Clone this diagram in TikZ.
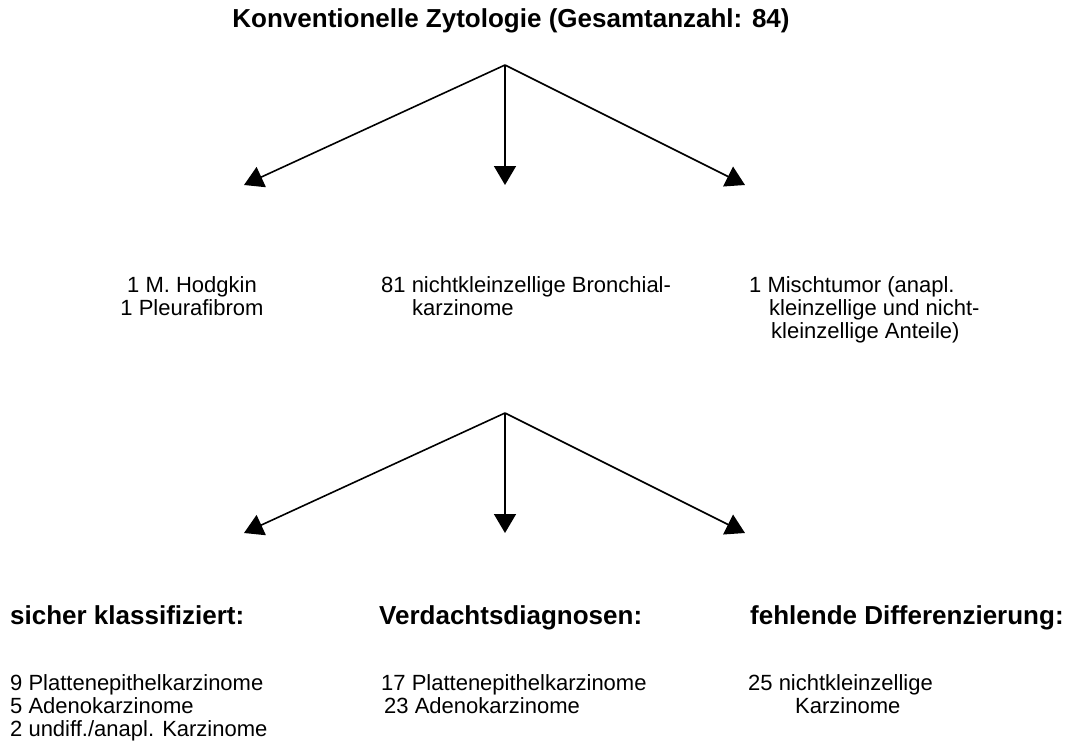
\documentclass[tikz,border=0pt]{standalone}
\usepackage{fontspec}
\setmainfont{Liberation Sans}
\usetikzlibrary{arrows.meta,positioning}

\tikzset{
  txt/.style={inner sep=0pt, font=\fontsize{22}{23}\selectfont, align=left},
  head/.style={inner sep=0pt, font=\fontsize{26}{30}\selectfont\bfseries},
  pfeil/.style={line width=1.6pt, -{Triangle[length=19pt,width=22pt]}}
}

\begin{document}
\begin{tikzpicture}[x=1pt,y=-1pt]
  \def\midX{505}
  \def\fstY{65}
  \def\sndY{413}
  \def\tipL{244}
  \def\tipR{745}
  \useasboundingbox (0,0) rectangle (1077,753);

  \node[head, anchor=base] (titel) at (511,27) {Konventionelle Zytologie (Gesamtanzahl: 84)};

  % erste Verzweigung
  \coordinate (top1) at (\midX,\fstY);
  \coordinate (l1) at (\tipL,\fstY+120);
  \coordinate (m1) at (\midX,\fstY+120);
  \coordinate (r1) at (\tipR,\fstY+120);
  \draw[pfeil] (top1) -- (l1);
  \draw[pfeil] (top1) -- (m1);
  \draw[pfeil] (top1) -- (r1);

  % base = letzte Zeile
  \node[txt, align=center, anchor=base] (andere) at (192,315) {1 M. Hodgkin\\1 Pleurafibrom};
  \node[txt, anchor=base west] (nsclc) at (381,315) {81 nichtkleinzellige Bronchial-\\\hspace*{31pt}karzinome};
  \node[txt, anchor=base west] (misch) at (749,338) {1 Mischtumor (anapl.\\\hspace*{20pt}kleinzellige und nicht-\\\hspace*{22pt}kleinzellige Anteile)};

  % zweite Verzweigung
  \coordinate (top2) at (\midX,\sndY);
  \coordinate (l2) at (\tipL,\sndY+120);
  \coordinate (m2) at (\midX,\sndY+120);
  \coordinate (r2) at (\tipR,\sndY+120);
  \draw[pfeil] (top2) -- (l2);
  \draw[pfeil] (top2) -- (m2);
  \draw[pfeil] (top2) -- (r2);

  \node[head, anchor=base west] (sicher) at (10,624) {sicher klassifiziert:};
  \node[head, anchor=base west] (verdacht) at (379,624) {Verdachtsdiagnosen:};
  \node[head, anchor=base west] (fehlend) at (750,624) {fehlende Differenzierung:};

  \node[txt, anchor=base west] (sicherliste) at (10,736) {9 Plattenepithelkarzinome\\5 Adenokarzinome\\2 undiff./anapl. Karzinome};
  \node[txt, anchor=base west] (verdachtliste) at (381,713) {17 Plattenepithelkarzinome\\\hspace*{3pt}23 Adenokarzinome};
  \node[txt, anchor=base west] (fehlendliste) at (748,713) {25 nichtkleinzellige\\\hspace*{47pt}Karzinome};
\end{tikzpicture}
\end{document}
